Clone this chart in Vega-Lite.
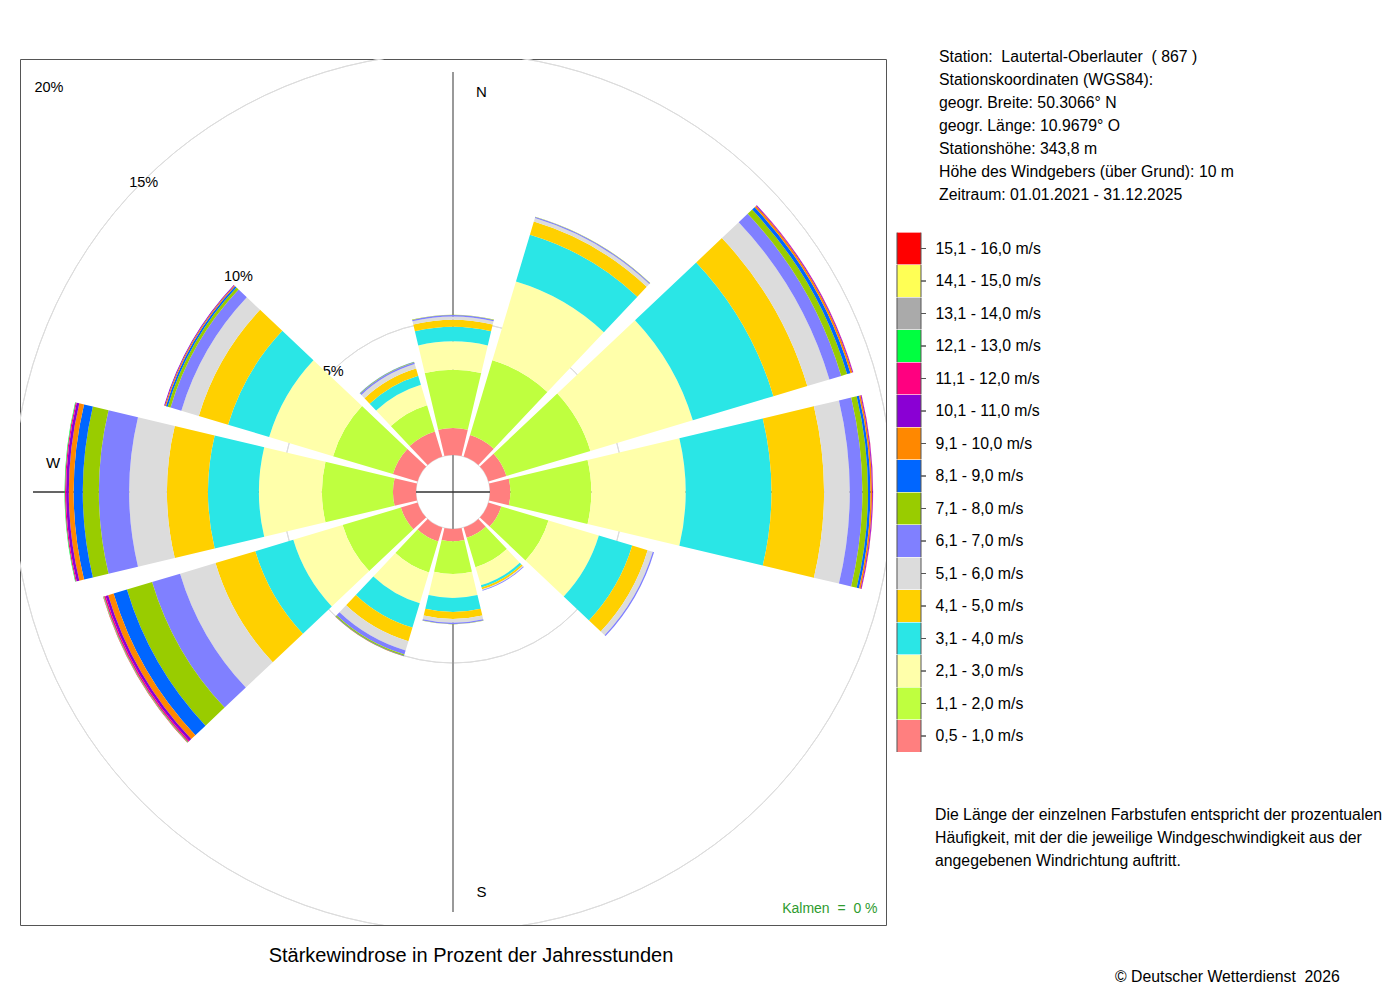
{
  "$schema": "https://vega.github.io/schema/vega-lite/v6.json",
  "description": "Staerkewindrose Lautertal-Oberlauter 2021-2025",
  "autosize": {"type": "none"},
  "width": 866,
  "height": 866,
  "padding": {"left": 20, "top": 59, "right": 514, "bottom": 75},
  "background": "white",
  "datasets": {
    "klassen": [
      {"k": 1, "label": "0,5 - 1,0 m/s"},
      {"k": 2, "label": "1,1 - 2,0 m/s"},
      {"k": 3, "label": "2,1 - 3,0 m/s"},
      {"k": 4, "label": "3,1 - 4,0 m/s"},
      {"k": 5, "label": "4,1 - 5,0 m/s"},
      {"k": 6, "label": "5,1 - 6,0 m/s"},
      {"k": 7, "label": "6,1 - 7,0 m/s"},
      {"k": 8, "label": "7,1 - 8,0 m/s"},
      {"k": 9, "label": "8,1 - 9,0 m/s"},
      {"k": 10, "label": "9,1 - 10,0 m/s"},
      {"k": 11, "label": "10,1 - 11,0 m/s"},
      {"k": 12, "label": "11,1 - 12,0 m/s"},
      {"k": 13, "label": "12,1 - 13,0 m/s"},
      {"k": 14, "label": "13,1 - 14,0 m/s"},
      {"k": 15, "label": "14,1 - 15,0 m/s"},
      {"k": 16, "label": "15,1 - 16,0 m/s"}
    ],
    "rose": [
      {"dir": 0, "k": 1, "p": 1.01}, {"dir": 0, "k": 2, "p": 2.17}, {"dir": 0, "k": 3, "p": 1.06},
      {"dir": 0, "k": 4, "p": 0.54}, {"dir": 0, "k": 5, "p": 0.26}, {"dir": 0, "k": 6, "p": 0.13},
      {"dir": 0, "k": 7, "p": 0.05}, {"dir": 0, "k": 8, "p": 0.01},

      {"dir": 30, "k": 1, "p": 0.84}, {"dir": 30, "k": 2, "p": 2.91}, {"dir": 30, "k": 3, "p": 3.07},
      {"dir": 30, "k": 4, "p": 1.82}, {"dir": 30, "k": 5, "p": 0.51}, {"dir": 30, "k": 6, "p": 0.14},
      {"dir": 30, "k": 7, "p": 0.04}, {"dir": 30, "k": 8, "p": 0.01},

      {"dir": 60, "k": 1, "p": 0.70}, {"dir": 60, "k": 2, "p": 3.27}, {"dir": 60, "k": 3, "p": 3.99},
      {"dir": 60, "k": 4, "p": 3.14}, {"dir": 60, "k": 5, "p": 1.32}, {"dir": 60, "k": 6, "p": 0.86},
      {"dir": 60, "k": 7, "p": 0.46}, {"dir": 60, "k": 8, "p": 0.23}, {"dir": 60, "k": 9, "p": 0.13},
      {"dir": 60, "k": 10, "p": 0.07}, {"dir": 60, "k": 11, "p": 0.03}, {"dir": 60, "k": 12, "p": 0.01},

      {"dir": 90, "k": 1, "p": 0.76}, {"dir": 90, "k": 2, "p": 3.02}, {"dir": 90, "k": 3, "p": 3.52},
      {"dir": 90, "k": 4, "p": 3.20}, {"dir": 90, "k": 5, "p": 1.96}, {"dir": 90, "k": 6, "p": 0.96},
      {"dir": 90, "k": 7, "p": 0.47}, {"dir": 90, "k": 8, "p": 0.21}, {"dir": 90, "k": 9, "p": 0.09},
      {"dir": 90, "k": 10, "p": 0.06}, {"dir": 90, "k": 11, "p": 0.03}, {"dir": 90, "k": 12, "p": 0.01},

      {"dir": 120, "k": 1, "p": 0.50}, {"dir": 120, "k": 2, "p": 1.84}, {"dir": 120, "k": 3, "p": 1.96},
      {"dir": 120, "k": 4, "p": 1.30}, {"dir": 120, "k": 5, "p": 0.60}, {"dir": 120, "k": 6, "p": 0.20},
      {"dir": 120, "k": 7, "p": 0.05},

      {"dir": 150, "k": 1, "p": 0.40}, {"dir": 150, "k": 2, "p": 1.15}, {"dir": 150, "k": 3, "p": 0.70},
      {"dir": 150, "k": 4, "p": 0.09}, {"dir": 150, "k": 5, "p": 0.07}, {"dir": 150, "k": 6, "p": 0.03},
      {"dir": 150, "k": 7, "p": 0.03},

      {"dir": 180, "k": 1, "p": 0.46}, {"dir": 180, "k": 2, "p": 1.22}, {"dir": 180, "k": 3, "p": 0.89},
      {"dir": 180, "k": 4, "p": 0.53}, {"dir": 180, "k": 5, "p": 0.26}, {"dir": 180, "k": 6, "p": 0.14},
      {"dir": 180, "k": 7, "p": 0.05}, {"dir": 180, "k": 8, "p": 0.01},

      {"dir": 210, "k": 1, "p": 0.55}, {"dir": 210, "k": 2, "p": 1.20}, {"dir": 210, "k": 3, "p": 1.20},
      {"dir": 210, "k": 4, "p": 0.95}, {"dir": 210, "k": 5, "p": 0.53}, {"dir": 210, "k": 6, "p": 0.36},
      {"dir": 210, "k": 7, "p": 0.16}, {"dir": 210, "k": 8, "p": 0.04}, {"dir": 210, "k": 9, "p": 0.02},
      {"dir": 210, "k": 10, "p": 0.01},

      {"dir": 240, "k": 1, "p": 0.65}, {"dir": 240, "k": 2, "p": 2.27}, {"dir": 240, "k": 3, "p": 1.92},
      {"dir": 240, "k": 4, "p": 1.48}, {"dir": 240, "k": 5, "p": 1.55}, {"dir": 240, "k": 6, "p": 1.38},
      {"dir": 240, "k": 7, "p": 1.09}, {"dir": 240, "k": 8, "p": 0.98}, {"dir": 240, "k": 9, "p": 0.52},
      {"dir": 240, "k": 10, "p": 0.21}, {"dir": 240, "k": 11, "p": 0.10}, {"dir": 240, "k": 12, "p": 0.06},
      {"dir": 240, "k": 13, "p": 0.02}, {"dir": 240, "k": 14, "p": 0.01}, {"dir": 240, "k": 16, "p": 0.01},

      {"dir": 270, "k": 1, "p": 0.86}, {"dir": 270, "k": 2, "p": 2.65}, {"dir": 270, "k": 3, "p": 2.35},
      {"dir": 270, "k": 4, "p": 1.90}, {"dir": 270, "k": 5, "p": 1.53}, {"dir": 270, "k": 6, "p": 1.41},
      {"dir": 270, "k": 7, "p": 1.13}, {"dir": 270, "k": 8, "p": 0.60}, {"dir": 270, "k": 9, "p": 0.34},
      {"dir": 270, "k": 10, "p": 0.18}, {"dir": 270, "k": 11, "p": 0.10}, {"dir": 270, "k": 12, "p": 0.04},
      {"dir": 270, "k": 13, "p": 0.02},

      {"dir": 300, "k": 1, "p": 0.96}, {"dir": 300, "k": 2, "p": 2.33}, {"dir": 300, "k": 3, "p": 2.49},
      {"dir": 300, "k": 4, "p": 1.60}, {"dir": 300, "k": 5, "p": 1.14}, {"dir": 300, "k": 6, "p": 0.68},
      {"dir": 300, "k": 7, "p": 0.42}, {"dir": 300, "k": 8, "p": 0.11}, {"dir": 300, "k": 9, "p": 0.07},
      {"dir": 300, "k": 10, "p": 0.04}, {"dir": 300, "k": 11, "p": 0.03},

      {"dir": 330, "k": 1, "p": 0.98}, {"dir": 330, "k": 2, "p": 1.02}, {"dir": 330, "k": 3, "p": 0.80},
      {"dir": 330, "k": 4, "p": 0.35}, {"dir": 330, "k": 5, "p": 0.28}, {"dir": 330, "k": 6, "p": 0.17},
      {"dir": 330, "k": 7, "p": 0.06}, {"dir": 330, "k": 8, "p": 0.02}, {"dir": 330, "k": 9, "p": 0.01}
    ]
  },
  "layer": [
    {
      "data": {"values": [{"g": 5}, {"g": 10}, {"g": 15}, {"g": 20}]},
      "mark": {"type": "arc", "filled": false, "stroke": "#dcdcdc", "strokeWidth": 1, "clip": true},
      "encoding": {
        "theta": {"value": 0},
        "theta2": {"value": 6.2832},
        "radius": {"field": "g", "type": "quantitative", "scale": {"type": "linear", "domain": [0, 20], "range": [37, 573]}}
      }
    },
    {
      "data": {"values": [{"dir": 0}, {"dir": 180}]},
      "mark": {"type": "arc", "filled": false, "stroke": "#999999", "strokeWidth": 2},
      "encoding": {
        "theta": {"field": "dir", "type": "quantitative", "stack": null, "scale": {"domain": [0, 360], "range": [0, 6.283185307179586]}},
        "theta2": {"field": "dir"},
        "radius": {"value": 420},
        "radius2": {"value": 0}
      }
    },
    {
      "data": {"values": [{"dir": 90}, {"dir": 270}]},
      "mark": {"type": "arc", "filled": false, "stroke": "#333333", "strokeWidth": 1},
      "encoding": {
        "theta": {"field": "dir", "type": "quantitative", "stack": null, "scale": {"domain": [0, 360], "range": [0, 6.283185307179586]}},
        "theta2": {"field": "dir"},
        "radius": {"value": 420},
        "radius2": {"value": 0}
      }
    },
    {
      "data": {"values": [{"g": 5, "lab": "5%"}, {"g": 10, "lab": "10%"}, {"g": 15, "lab": "15%"}, {"g": 20, "lab": "20%"}]},
      "mark": {"type": "text", "font": "Liberation Sans", "fontSize": 14.5, "color": "black", "align": "center", "baseline": "middle", "radiusOffset": -1.5},
      "encoding": {
        "theta": {"value": 5.4978},
        "radius": {"field": "g", "type": "quantitative", "scale": {"type": "linear", "domain": [0, 20], "range": [37, 573]}},
        "text": {"field": "lab"}
      }
    },
    {
      "data": {"values": [{"dir": 0, "lab": "N"}, {"dir": 180, "lab": "S"}]},
      "mark": {"type": "text", "font": "Liberation Sans", "fontSize": 15, "color": "black", "align": "center", "baseline": "middle", "dx": 28.5},
      "encoding": {
        "theta": {"field": "dir", "type": "quantitative", "stack": null, "scale": {"domain": [0, 360], "range": [0, 6.283185307179586]}},
        "radius": {"value": 400},
        "text": {"field": "lab"}
      }
    },
    {
      "data": {"values": [{"dir": 90, "lab": "E"}, {"dir": 270, "lab": "W"}]},
      "mark": {"type": "text", "font": "Liberation Sans", "fontSize": 15, "color": "black", "align": "center", "baseline": "middle", "dy": -29.5},
      "encoding": {
        "theta": {"field": "dir", "type": "quantitative", "stack": null, "scale": {"domain": [0, 360], "range": [0, 6.283185307179586]}},
        "radius": {"value": 400},
        "text": {"field": "lab"}
      }
    },
    {
      "data": {"name": "rose"},
      "transform": [
        {"lookup": "k", "from": {"data": {"name": "klassen"}, "key": "k", "fields": ["label"]}},
        {"stack": "p", "groupby": ["dir"], "sort": [{"field": "k", "order": "ascending"}], "as": ["r0", "r1"]}
      ],
      "mark": {"type": "arc", "thetaOffset": -0.233, "theta2Offset": 0.233},
      "encoding": {
        "theta": {"field": "dir", "type": "quantitative", "stack": null, "scale": {"domain": [0, 360], "range": [0, 6.283185307179586]}},
        "theta2": {"field": "dir"},
        "radius": {"field": "r1", "type": "quantitative", "scale": {"type": "linear", "domain": [0, 20], "range": [37, 573]}},
        "radius2": {"field": "r0"},
        "color": {
          "field": "label",
          "type": "nominal",
          "scale": {
            "domain": ["15,1 - 16,0 m/s", "14,1 - 15,0 m/s", "13,1 - 14,0 m/s", "12,1 - 13,0 m/s", "11,1 - 12,0 m/s", "10,1 - 11,0 m/s", "9,1 - 10,0 m/s", "8,1 - 9,0 m/s", "7,1 - 8,0 m/s", "6,1 - 7,0 m/s", "5,1 - 6,0 m/s", "4,1 - 5,0 m/s", "3,1 - 4,0 m/s", "2,1 - 3,0 m/s", "1,1 - 2,0 m/s", "0,5 - 1,0 m/s"],
            "range": ["#ff0000", "#ffff55", "#aaaaaa", "#00ff40", "#ff0080", "#8a00d4", "#ff8800", "#0066ff", "#99cc00", "#8080ff", "#dcdcdc", "#ffd000", "#2ae6e6", "#ffffaa", "#bfff3f", "#ff7f7f"]
          },
          "legend": {
            "title": null,
            "orient": "none",
            "legendX": 872,
            "legendY": 173.5,
            "padding": 0,
            "rowPadding": 0.5,
            "clipHeight": 32,
            "symbolType": "M0.7385,-1V0H1.046H0.7385V1H-0.7385V-1Z",
            "symbolSize": 1056.25,
            "symbolStrokeColor": "#555555",
            "symbolStrokeWidth": 1,
            "symbolDash": [42.5, 24, 32.5, 24],
            "symbolOpacity": 1,
            "labelFont": "Liberation Sans",
            "labelFontSize": 15.8,
            "labelColor": "black",
            "labelOffset": 9.5,
            "labelLimit": 300
          }
        }
      }
    },
    {
      "data": {"values": [{"txt": "Kalmen\u00a0\u00a0=\u00a0\u00a00 %"}]},
      "mark": {"type": "text", "font": "Liberation Sans", "fontSize": 14, "color": "#2e9b2e", "align": "right", "baseline": "alphabetic"},
      "encoding": {"x": {"value": 857.5}, "y": {"value": 854}, "text": {"field": "txt"}}
    },
    {
      "data": {"values": [{}]},
      "mark": {"type": "text", "font": "Liberation Sans", "fontSize": 20, "color": "black", "align": "center", "baseline": "alphabetic"},
      "encoding": {
        "x": {"value": 451},
        "y": {"value": 903},
        "text": {"value": "Stärkewindrose in Prozent der Jahresstunden"}
      }
    },
    {
      "data": {"values": [{}]},
      "mark": {"type": "text", "font": "Liberation Sans", "fontSize": 15.8, "color": "black", "align": "left", "baseline": "alphabetic", "lineHeight": 23.05},
      "encoding": {
        "x": {"value": 919},
        "y": {"value": 2.7},
        "text": {"value": ["Station:\u00a0\u00a0Lautertal-Oberlauter\u00a0\u00a0( 867 )", "Stationskoordinaten (WGS84):", "geogr. Breite: 50.3066° N", "geogr. Länge: 10.9679° O", "Stationshöhe: 343,8 m", "Höhe des Windgebers (über Grund): 10 m", "Zeitraum: 01.01.2021 - 31.12.2025"]}
      }
    },
    {
      "data": {"values": [{}]},
      "mark": {"type": "text", "font": "Liberation Sans", "fontSize": 15.8, "color": "black", "align": "left", "baseline": "alphabetic", "lineHeight": 23.05},
      "encoding": {
        "x": {"value": 915},
        "y": {"value": 760.5},
        "text": {"value": ["Die Länge der einzelnen Farbstufen entspricht der prozentualen", "Häufigkeit, mit der die jeweilige Windgeschwindigkeit aus der", "angegebenen Windrichtung auftritt."]}
      }
    },
    {
      "data": {"values": [{}]},
      "mark": {"type": "text", "font": "Liberation Sans", "fontSize": 15.8, "color": "black", "align": "left", "baseline": "alphabetic"},
      "encoding": {
        "x": {"value": 1095},
        "y": {"value": 922.5},
        "text": {"value": "©\u00a0Deutscher Wetterdienst\u00a0\u00a02026"}
      }
    }
  ],
  "config": {
    "view": {"stroke": "#555555", "strokeWidth": 1},
    "font": "Liberation Sans"
  }
}
